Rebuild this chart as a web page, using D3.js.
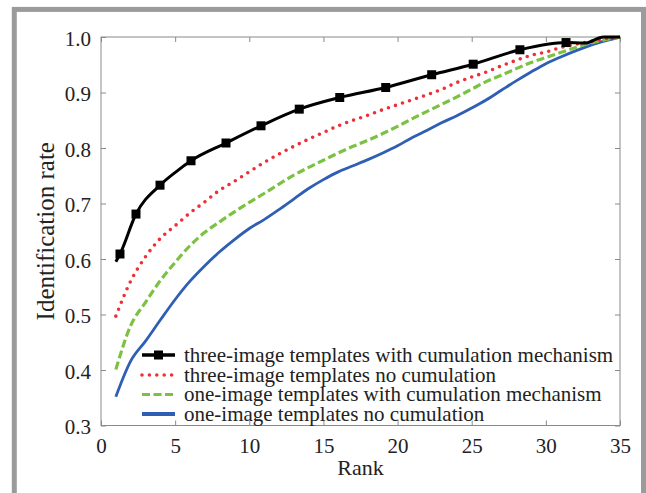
<!DOCTYPE html>
<html>
<head>
<meta charset="utf-8">
<script src="https://cdn.jsdelivr.net/npm/d3@7"></script>
<style>
  html, body { margin: 0; padding: 0; background: #fff; }
  svg { display: block; }
  text { font-family: "Liberation Serif", "Times New Roman", serif; fill: #222; }
</style>
</head>
<body>
<svg id="chart" width="646" height="493"></svg>
<script>
// Cumulative identification rate by rank
const ranks = d3.range(1, 36);

// three-image templates, no cumulation (rank 1..35)
const threeNoCum = [0.497, 0.560, 0.604, 0.637, 0.660, 0.683, 0.703, 0.724, 0.740, 0.757,
                    0.774, 0.789, 0.803, 0.816, 0.828, 0.840, 0.850, 0.859, 0.869, 0.878,
                    0.887, 0.896, 0.906, 0.918, 0.928, 0.937, 0.948, 0.958, 0.967, 0.973,
                    0.981, 0.987, 0.992, 0.997, 1.000];

// one-image templates with cumulation mechanism (rank 1..35)
const oneCum = [0.401, 0.480, 0.522, 0.561, 0.594, 0.624, 0.648, 0.667, 0.685, 0.702,
                0.718, 0.735, 0.751, 0.765, 0.778, 0.791, 0.803, 0.814, 0.826, 0.839,
                0.853, 0.866, 0.879, 0.892, 0.906, 0.920, 0.931, 0.943, 0.954, 0.963,
                0.972, 0.981, 0.989, 0.995, 1.000];

// one-image templates, no cumulation (rank 1..35)
const oneNoCum = [0.352, 0.416, 0.452, 0.490, 0.527, 0.560, 0.588, 0.613, 0.635, 0.655,
                  0.671, 0.689, 0.708, 0.727, 0.743, 0.757, 0.768, 0.779, 0.791, 0.804,
                  0.819, 0.832, 0.846, 0.858, 0.872, 0.887, 0.904, 0.921, 0.937, 0.952,
                  0.964, 0.975, 0.985, 0.993, 1.000];

// three-image templates with cumulation mechanism (sampled along the curve)
const threeCumRank = [1.0, 1.28, 2.36, 3.98, 5.1, 6.07, 8.43, 10.79, 13.37, 16.1, 19.2,
                      22.3, 25.1, 28.25, 31.36, 32.6, 33.9, 35];
const threeCumRate = [0.595, 0.609, 0.681, 0.733, 0.758, 0.777, 0.809, 0.840, 0.870, 0.891, 0.909,
                      0.932, 0.951, 0.977, 0.990, 0.989, 1.000, 1.000];
const threeCumMarker = [0, 1, 1, 1, 0, 1, 1, 1, 1, 1, 1, 1, 1, 1, 1, 0, 0, 0];

const xTicks = [0, 5, 10, 15, 20, 25, 30, 35];
const yTicks = [0.3, 0.4, 0.5, 0.6, 0.7, 0.8, 0.9, 1.0];

const legendLabels = [
  "three-image templates with cumulation mechanism",
  "three-image templates no cumulation",
  "one-image templates with cumulation mechanism",
  "one-image templates no cumulation"
];

const svg = d3.select("#chart");

// outer frame
svg.append("rect")
  .attr("x", 14.3).attr("y", 9.4)
  .attr("width", 629.2).attr("height", 600)
  .attr("fill", "none").attr("stroke", "#9b9b9b").attr("stroke-width", 5);

const plotLeft = 101, plotRight = 620, plotTop = 37, plotBottom = 425.5;
const x = d3.scaleLinear().domain([0, 35]).range([plotLeft, plotRight]);
const y = d3.scaleLinear().domain([0.3, 1.0]).range([plotBottom, plotTop]);

const axisColor = "#8a8a8a";
const fontSize = 21;

function styleAxis(g) {
  g.select(".domain").remove();
  g.selectAll(".tick line").attr("stroke", axisColor).attr("stroke-width", 1);
  g.selectAll(".tick text").attr("font-size", fontSize).attr("fill", "#222")
    .attr("font-family", "Liberation Serif, Times New Roman, serif");
}

// bottom axis with labels
svg.append("g").attr("transform", `translate(0,${plotBottom})`)
  .call(d3.axisBottom(x).tickValues(xTicks).tickSizeInner(-5).tickSizeOuter(0).tickPadding(12.5)
    .tickFormat(d3.format("d")))
  .call(styleAxis);

// top axis, ticks only
svg.append("g").attr("transform", `translate(0,${plotTop})`)
  .call(d3.axisTop(x).tickValues(xTicks).tickSizeInner(-5).tickSizeOuter(0).tickFormat(""))
  .call(styleAxis);

// left axis with labels
svg.append("g").attr("transform", `translate(${plotLeft},0)`)
  .call(d3.axisLeft(y).tickValues(yTicks).tickSizeInner(-5).tickSizeOuter(0).tickPadding(10)
    .tickFormat(d3.format(".1f")))
  .call(styleAxis)
  .call(g => g.selectAll(".tick text").attr("dy", "0.4em"));

// right axis, ticks only
svg.append("g").attr("transform", `translate(${plotRight},0)`)
  .call(d3.axisRight(y).tickValues(yTicks).tickSizeInner(-5).tickSizeOuter(0).tickFormat(""))
  .call(styleAxis);

// plot box
svg.append("rect")
  .attr("x", plotLeft).attr("y", plotTop)
  .attr("width", plotRight - plotLeft).attr("height", plotBottom - plotTop)
  .attr("fill", "none").attr("stroke", axisColor).attr("stroke-width", 1);

// axis titles
svg.append("text")
  .attr("x", (plotLeft + plotRight) / 2).attr("y", 475)
  .attr("text-anchor", "middle").attr("font-size", 22)
  .text("Rank");

svg.append("text")
  .attr("transform", `translate(54,${(plotTop + plotBottom) / 2}) rotate(-90)`)
  .attr("text-anchor", "middle").attr("font-size", 25)
  .text("Identification rate");

const styles = [
  { color: "#000000", width: 3,   dash: null,      cap: "butt" },
  { color: "#ee3036", width: 3.6, dash: "0 7.4",   cap: "round" },
  { color: "#7cc242", width: 3.2, dash: "8 3.5",   cap: "butt" },
  { color: "#2f5fb4", width: 2.8, dash: null,      cap: "butt" }
];

const line = d3.line().x(d => x(d[0])).y(d => y(d[1])).curve(d3.curveMonotoneX);

const seriesData = [
  threeCumRank.map((r, i) => [r, threeCumRate[i]]),
  ranks.map((r, i) => [r, threeNoCum[i]]),
  ranks.map((r, i) => [r, oneCum[i]]),
  ranks.map((r, i) => [r, oneNoCum[i]])
];

// draw from bottom series up so the marked series is on top
[3, 2, 1, 0].forEach(k => {
  const s = styles[k];
  svg.append("path")
    .datum(seriesData[k])
    .attr("d", line)
    .attr("fill", "none")
    .attr("stroke", s.color)
    .attr("stroke-width", s.width)
    .attr("stroke-dasharray", s.dash)
    .attr("stroke-linecap", s.cap)
    .attr("stroke-linejoin", "round");
});

// square markers
const msize = 9;
svg.append("g").selectAll("rect")
  .data(seriesData[0].filter((d, i) => threeCumMarker[i]))
  .join("rect")
  .attr("x", d => x(d[0]) - msize / 2)
  .attr("y", d => y(d[1]) - msize / 2)
  .attr("width", msize).attr("height", msize)
  .attr("fill", "#000");

// legend
const legendX0 = 142, legendX1 = 175, legendTextX = 184;
const legendY = [355, 375, 394.5, 414];
const lg = svg.append("g");
legendLabels.forEach((label, k) => {
  const s = styles[k];
  lg.append("line")
    .attr("x1", legendX0).attr("x2", legendX1)
    .attr("y1", legendY[k]).attr("y2", legendY[k])
    .attr("stroke", s.color)
    .attr("stroke-width", k === 0 ? 3.5 : (k === 3 ? 4 : s.width))
    .attr("stroke-dasharray", s.dash)
    .attr("stroke-linecap", s.cap);
  if (k === 0) {
    lg.append("rect")
      .attr("x", (legendX0 + legendX1) / 2 - msize / 2)
      .attr("y", legendY[k] - msize / 2)
      .attr("width", msize).attr("height", msize)
      .attr("fill", "#000");
  }
  lg.append("text")
    .attr("x", legendTextX).attr("y", legendY[k] + 6.5)
    .attr("font-size", fontSize)
    .text(label);
});
</script>
</body>
</html>
